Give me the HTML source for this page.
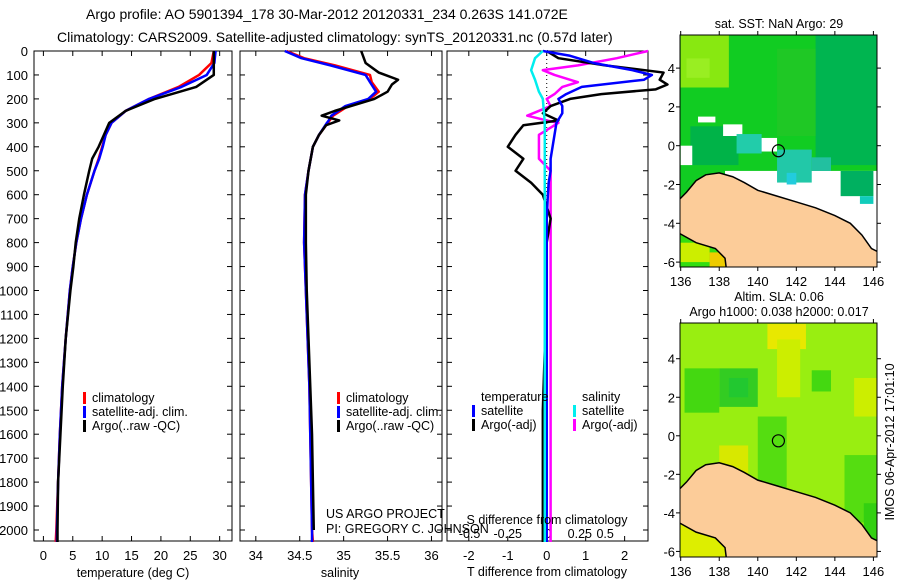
<!DOCTYPE html>
<html><head><meta charset="utf-8"><style>
html,body{margin:0;padding:0;background:#fff;}
svg{display:block;font-family:"Liberation Sans",sans-serif;}
</style></head><body>
<svg id="fig" width="900" height="580" viewBox="0 0 900 580">
<text x="86" y="19" font-size="14">Argo profile: AO 5901394_178 30-Mar-2012 20120331_234 0.263S 141.072E</text>
<text x="57" y="42" font-size="14">Climatology: CARS2009. Satellite-adjusted climatology: synTS_20120331.nc (0.57d later)</text>
<g id="g"></g>
</svg>
<script>
// ---------- data ----------
const depthTicks=[0,100,200,300,400,500,600,700,800,900,1000,1100,1200,1300,1400,1500,1600,1700,1800,1900,2000];
const tempTicks=[0,5,10,15,20,25,30];
const salTicks=[34,34.5,35,35.5,36];
const diffTicks=[-2,-1,0,1,2];
const sdiffLabels=["-0.5","-0.25","0","0.25","0.5"];
const sdiffPos=[-1.98,-1.0,0.03,0.85,1.5];

const tDepth=[0,50,100,150,200,250,300,350,400,450,500,600,700,800,900,1000,1200,1400,1600,1800,2000,2050];
const tClim=[29,28.6,26.5,23,18,14,11.6,10.6,10,9.4,8.7,7.4,6.4,5.6,5.0,4.5,3.8,3.2,2.8,2.5,2.2,2.1];
const tSat=[29.3,29.1,27.8,23.5,18,14,11.6,10.6,10.1,9.5,8.7,7.4,6.4,5.6,5.0,4.5,3.8,3.2,2.8,2.5,2.3,2.3];
const tArgo=[29,29,29,26,19,14,11.2,10.3,9.4,8.3,7.8,6.9,6.1,5.5,5.1,4.6,3.8,3.3,2.9,2.5,2.4,2.4];

const sDepth=[0,30,60,100,130,170,200,230,270,290,300,350,400,500,600,800,1000,1200,1400,1600,1800,2000,2050];
const sClim=[34.35,34.55,34.9,35.3,35.32,35.4,35.3,35.05,34.88,34.84,34.82,34.72,34.65,34.6,34.56,34.55,34.57,34.59,34.61,34.62,34.63,34.64,34.65];
const sSat=[34.33,34.52,34.85,35.25,35.3,35.37,35.28,35.02,34.86,34.83,34.81,34.72,34.65,34.6,34.56,34.55,34.57,34.59,34.61,34.62,34.63,34.64,34.64];
const sArgoDepth=[0,50,90,120,140,170,200,250,270,290,310,350,400,500,600,800,1000,1200,1400,1600,1800,2000];
const sArgo=[35.2,35.25,35.4,35.62,35.55,35.5,35.35,34.9,34.75,34.95,34.8,34.72,34.65,34.6,34.57,34.57,34.58,34.6,34.62,34.64,34.65,34.66];

const dTsatDepth=[0,20,50,80,100,120,150,180,200,230,260,300,350,400,450,500,550,600,700,800,1000,1500,2050];
const dTsat=[-0.1,0.6,1.2,2.2,2.7,2.5,0.9,0.5,0.3,0.4,0.4,0.25,0.2,0.15,0.1,0.1,0.05,0.03,0,0,0,0,0];
const dTargoDepth=[0,30,60,90,120,140,160,180,200,230,260,290,310,350,400,450,500,550,600,700,800,1000,1500,2050];
const dTargo=[0,0.3,1.5,3.0,2.9,3.1,2.8,1.4,0.6,0.1,-0.1,0.3,-0.6,-0.8,-1.0,-0.6,-0.8,-0.4,-0.1,0.1,0,0,-0.1,-0.1];
const dSsatDepth=[0,30,80,120,170,200,300,2050];
const dSsat=[-0.1,-0.3,-0.4,-0.3,-0.2,-0.1,-0.05,-0.05];
const dSargoDepth=[0,30,60,80,100,130,150,180,200,230,270,290,300,350,450,500,2050];
const dSargo=[2.6,1.8,0.8,-0.1,0.2,0.8,0.4,0.2,0.0,0.1,-0.5,0.0,0.3,-0.2,-0.2,0.1,0.1];

const lonTicks=[136,138,140,142,144,146];
const latTicks=[4,2,0,-2,-4,-6];
const argoLon=141.07, argoLat=-0.26;
const coast=[[135.9,-2.8],[136.3,-2.4],[136.8,-1.8],[137.3,-1.5],[138,-1.4],[138.7,-1.6],[139.3,-1.9],[140,-2.3],[141,-2.6],[142,-2.9],[143,-3.2],[144,-3.6],[144.8,-4.0],[145.4,-4.6],[145.9,-5.3],[146.3,-5.5]];
const coast2=[[135.9,-4.5],[136.8,-5.0],[137.8,-5.3],[138.3,-5.8],[138.4,-6.6]];

// ---------- helpers ----------
const NS="http://www.w3.org/2000/svg";
const G=document.getElementById('g');
function mk(tag,at,parent){const e=document.createElementNS(NS,tag);for(const k in at)e.setAttribute(k,at[k]);(parent||G).appendChild(e);return e;}
const Y0=51,YB=541,ys=d=>Y0+d*0.2395;

function panel(x0,x1,xmin,xmax,name){
  const sx=v=>x0+(v-xmin)/(xmax-xmin)*(x1-x0);
  const f=mk('rect',{x:x0,y:Y0,width:x1-x0,height:YB-Y0,fill:'none',stroke:'#000','stroke-width':1});
  
  
  depthTicks.forEach(d=>{mk('line',{x1:x0,x2:x0+5,y1:ys(d),y2:ys(d),stroke:'#000'});mk('line',{x1:x1-5,x2:x1,y1:ys(d),y2:ys(d),stroke:'#000'});});
  return sx;
}
function line(sx,depths,vals,color,name,w){
  const p=mk('polyline',{points:vals.map((v,i)=>sx(v)+','+ys(depths[i])).join(' '),fill:'none',stroke:color,'stroke-width':w||2.5,'stroke-linejoin':'round'});
  
  
}
function txt(x,y,s,size,anchor,name,fill){
  const t=mk('text',{x:x,y:y,'font-size':size,'text-anchor':anchor||'start',fill:fill||'#000'});t.textContent=s;
  
  
  return t;
}
function xticks(sx,ticks,labels,y){ticks.forEach((v,i)=>{mk('line',{x1:sx(v),x2:sx(v),y1:YB,y2:YB-5,stroke:'#000'});mk('line',{x1:sx(v),x2:sx(v),y1:Y0,y2:Y0+5,stroke:'#000'});txt(sx(v),y,labels[i],13,'middle','x-tick-label');});}
function legend(x,y,items){items.forEach((it,i)=>{mk('rect',{x:x,y:y+i*14-10,width:3,height:12,fill:it[1]});txt(x+9,y+i*14,it[0],12.5,'start','legend-entry');});}

depthTicks.forEach(d=>txt(28,ys(d)+5,String(d),13,'end','depth-tick-label'));

const sxT=panel(34,232,-1.6,32.1,'temperature-panel');
xticks(sxT,tempTicks,tempTicks.map(String),560);
line(sxT,tDepth,tClim,'#f00','temp-climatology-line');
line(sxT,tDepth,tSat,'#00f','temp-satellite-line');
line(sxT,tDepth,tArgo,'#000','temp-argo-line');
legend(83,402,[['climatology','#f00'],['satellite-adj. clim.','#00f'],['Argo(..raw -QC)','#000']]);
txt(133,577,'temperature (deg C)',12.5,'middle','x-axis-title-temperature');

const sxS=panel(240,442,33.82,36.12,'salinity-panel');
xticks(sxS,salTicks,['34','34.5','35','35.5','36'],560);
line(sxS,sDepth,sClim,'#f00','sal-climatology-line');
line(sxS,sDepth,sSat,'#00f','sal-satellite-line');
line(sxS,sArgoDepth,sArgo,'#000','sal-argo-line');
legend(337,402,[['climatology','#f00'],['satellite-adj. clim.','#00f'],['Argo(..raw -QC)','#000']]);
txt(340,577,'salinity',12.5,'middle','x-axis-title-salinity');
txt(326,518,'US ARGO PROJECT',12.5,'start','project-label');
txt(326,533,'PI: GREGORY C. JOHNSON',12.5,'start','pi-label');

const sxD=panel(447,648,-2.56,2.6,'difference-panel');
xticks(sxD,diffTicks,diffTicks.map(String),560);
sdiffLabels.forEach((s,i)=>txt(sxD(sdiffPos[i]),538,s,12.5,'middle','s-diff-tick-label'));
mk('line',{x1:sxD(0),x2:sxD(0),y1:Y0,y2:YB,stroke:'#000','stroke-dasharray':'1,3'});
line(sxD,dSargoDepth,dSargo,'#f0f','sdiff-argo-line');
line(sxD,dTargoDepth,dTargo,'#000','tdiff-argo-line');
line(sxD,dTsatDepth,dTsat,'#00f','tdiff-satellite-line');
line(sxD,dSsatDepth,dSsat,'#0ee','sdiff-satellite-line');
txt(481,401,'temperature',12.5,'start','legend-title-temperature');
txt(582,401,'salinity',12.5,'start','legend-title-salinity');
legend(472,415,[['satellite','#00f'],['Argo(-adj)','#000']]);
legend(573,415,[['satellite','#0ee'],['Argo(-adj)','#f0f']]);
txt(547,524,'S difference from climatology',12.5,'middle','x-axis-title-sdiff');
txt(547,576,'T difference from climatology',12.5,'middle','x-axis-title-tdiff');

function map(y0,y1,latZeroY,latScale,name,base,blobs){
  const x0=680,x1=877;
  const lx=l=>680.7+(l-136)*19.27, ly=a=>latZeroY-a*latScale;
  const cp=mk('clipPath',{id:name+'-clip'});mk('rect',{x:x0,y:y0,width:x1-x0,height:y1-y0},cp);
  const g=mk('g',{'clip-path':'url(#'+name+'-clip)'});
  
  
  mk('rect',{x:x0,y:y0,width:x1-x0,height:y1-y0,fill:base},g);
  blobs.forEach(b=>mk('rect',{x:lx(b[0]),y:ly(b[3]),width:lx(b[2])-lx(b[0]),height:ly(b[1])-ly(b[3]),fill:b[4]},g));
  const pts=coast.concat([[146.5,-5.5],[146.5,-6.8],[138.4,-6.8]]).concat(coast2.slice().reverse());
  const lp=mk('polygon',{points:pts.map(p=>lx(p[0])+','+ly(p[1])).join(' '),fill:'#fccc99',stroke:'none'},g);
  
  
  mk('polyline',{points:coast.map(p=>lx(p[0])+','+ly(p[1])).join(' '),fill:'none',stroke:'#000','stroke-width':1.5},g);
  mk('polyline',{points:coast2.map(p=>lx(p[0])+','+ly(p[1])).join(' '),fill:'none',stroke:'#000','stroke-width':1.5},g);
  mk('rect',{x:x0,y:y0,width:x1-x0,height:y1-y0,fill:'none',stroke:'#000'});
  lonTicks.forEach(l=>{mk('line',{x1:lx(l),x2:lx(l),y1:y1,y2:y1+4,stroke:'#000'});mk('line',{x1:lx(l),x2:lx(l),y1:y0,y2:y0-4,stroke:'#000'});txt(lx(l),y1+19,String(l),13,'middle','map-lon-label');});
  latTicks.forEach(a=>{mk('line',{x1:x0,x2:x0-4,y1:ly(a),y2:ly(a),stroke:'#000'});mk('line',{x1:x1,x2:x1+4,y1:ly(a),y2:ly(a),stroke:'#000'});txt(675,ly(a)+5,String(a),13,'end','map-lat-label');});
  const c=mk('circle',{cx:lx(argoLon),cy:ly(argoLat),r:6,fill:'none',stroke:'#000','stroke-width':1.2});
  
  
}
map(35,267,145.7,19.4,'sst-map','#11cc22',
 [[136,3,138.5,6,'#88e811'],[136.3,3.5,137.5,4.5,'#99ee22'],[143,-1,146.5,6,'#00b550'],[141,0.5,143,5,'#1fc825'],[136.5,-1,139,1,'#00b348'],
  [138.3,-6,146.5,-1.3,'#fff'],[136,-1,136.6,0,'#fff'],[139,-0.3,141,0.4,'#fff'],[138.2,0.5,139.2,1.1,'#fff'],[136.9,1.2,137.8,1.5,'#fff'],
  [138.9,-0.4,140.2,0.6,'#22ccaa'],[141,-1.9,142.8,-0.2,'#22c8a8'],[141.5,-2,142,-1.4,'#22ccdd'],[142.8,-1.3,143.8,-0.6,'#22c0a0'],
  [144.3,-2.6,146,-1.3,'#00b060'],[145.3,-3,146,-2.6,'#11ccbb'],
  [136,-6.8,138.5,-4.5,'#33dd11'],[136,-6,137.5,-5,'#ccee00'],[137.5,-6.5,138.4,-5.5,'#eecc00']]);
map(323,557,435.8,19.27,'sla-map','#99ee11',
 [[136,-6.8,138.5,-4.5,'#ddee00'],[136.2,1.2,138,3.5,'#44d811'],[138,1.5,140,3.5,'#33cc22'],[138.5,2,139.5,3,'#22c830'],[142.8,2.3,143.8,3.4,'#44d811'],[140,-2.8,141.5,1,'#55dd11'],
  [140.5,4.5,142.5,5.8,'#e8e800'],[141,2,142.2,5,'#ccee00'],[138,-2,139.5,-0.5,'#d8e800'],[145,1,146.3,3,'#ccee00'],[144.5,-4.5,146.3,-1,'#55dd11'],[145.5,-5.5,146.3,-3.5,'#33d011']]);
txt(779,28,'sat. SST: NaN Argo: 29',12.5,'middle','sst-map-title');
txt(779,301,'Altim. SLA: 0.06',12.5,'middle','sla-map-title');
txt(779,316,'Argo h1000: 0.038 h2000: 0.017',12.5,'middle','sla-map-subtitle');
const ts=txt(0,0,'IMOS 06-Apr-2012 17:01:10',12.5,'middle','imos-timestamp');
ts.setAttribute('transform','translate(894,442) rotate(-90)');
</script>
</body></html>
